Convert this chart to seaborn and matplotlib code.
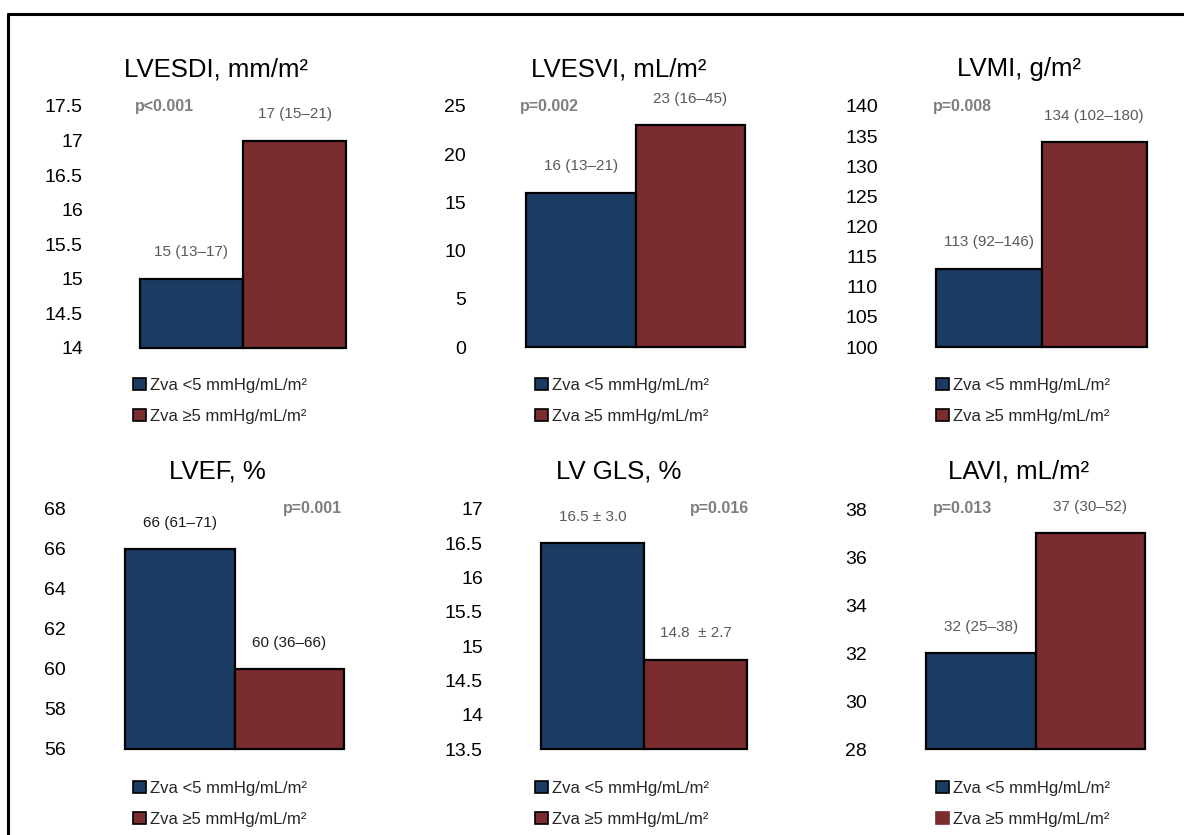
import matplotlib
matplotlib.use("Agg")
import matplotlib.pyplot as plt
import seaborn as sns
import pandas as pd
import numpy as np
from matplotlib.patches import Patch
from matplotlib.lines import Line2D

# ---------------- data ----------------
titles = ["LVESDI, mm/m²", "LVESVI, mL/m²", "LVMI, g/m²", "LVEF, %", "LV GLS, %", "LAVI, mL/m²"]
groups = ["Zva <5 mmHg/mL/m²", "Zva ≥5 mmHg/mL/m²"]
low_values = [15, 16, 113, 66, 16.5, 32]
high_values = [17, 23, 134, 60, 14.8, 37]
low_labels = ["15 (13–17)", "16 (13–21)", "113 (92–146)", "66 (61–71)", "16.5 ± 3.0", "32 (25–38)"]
high_labels = ["17 (15–21)", "23 (16–45)", "134 (102–180)", "60 (36–66)", "14.8  ± 2.7", "37 (30–52)"]
p_values = ["p<0.001", "p=0.002", "p=0.008", "p=0.001", "p=0.016", "p=0.013"]
y_min = [14, 0, 100, 56, 13.5, 28]
y_max = [17.5, 25, 140, 68, 17, 38]
y_step = [0.5, 5, 5, 2, 0.5, 2]

# ---------------- layout (pixels) ----------------
W, H = 1184, 835
layout = [
    dict(l=140, r=346, t=106, b=348, lab=83, tx=216, ty=76, px=135, pha="left", py=107, leg=133, ly=385),
    dict(l=526, r=745, t=106, b=347, lab=466, tx=619, ty=76, px=520, pha="left", py=107, leg=535, ly=385),
    dict(l=936, r=1147, t=106, b=347, lab=878, tx=1019, ty=76, px=933, pha="left", py=107, leg=936, ly=385),
    dict(l=125, r=344, t=509, b=749, lab=66, tx=217, ty=479, px=342, pha="right", py=509, leg=133, ly=788),
    dict(l=541, r=747, t=509, b=749, lab=483, tx=619, ty=479, px=749, pha="right", py=508, leg=535, ly=788),
    dict(l=926, r=1145, t=509, b=749, lab=867, tx=1019, ty=479, px=933, pha="left", py=509, leg=936, ly=788),
]
label_colors = ["#595959", "#595959", "#595959", "#1a1a1a", "#595959", "#595959"]

BLUE = "#1a3c63"
RED = "#7a2c2e"

sns.set_theme(style="white")
plt.rcParams["font.family"] = ["Liberation Sans", "DejaVu Sans"]

fig = plt.figure(figsize=(W / 100, H / 100), dpi=100)
fig.patch.set_facecolor("white")

for i in range(6):
    L = layout[i]
    ax = fig.add_axes([L["l"] / W, 1 - L["b"] / H, (L["r"] - L["l"]) / W, (L["b"] - L["t"]) / H])
    df = pd.DataFrame({"group": groups, "value": [low_values[i], high_values[i]]})
    sns.barplot(data=df, x="group", y="value", hue="group", palette=[BLUE, RED],
                width=1.0, dodge=False, edgecolor="black", linewidth=1.6,
                saturation=1, ax=ax, legend=False)
    ymin, ymax = y_min[i], y_max[i]
    ax.set_xlim(-0.5, 1.5)
    ax.set_ylim(ymin, ymax)
    for p in ax.patches:
        top = p.get_y() + p.get_height()
        p.set_y(ymin)
        p.set_height(top - ymin)
        p.set_clip_on(False)
    ticks = np.arange(ymin, ymax + y_step[i] / 2, y_step[i])
    ax.set_yticks(ticks)
    ax.set_yticklabels(["{:g}".format(v) for v in ticks])
    pad = (L["l"] - L["lab"]) * 0.72
    ax.tick_params(axis="y", length=0, pad=pad, labelsize=14, labelcolor="black")
    ax.set_xticks([])
    ax.set_xlabel("")
    ax.set_ylabel("")
    for s in ax.spines.values():
        s.set_visible(False)
    ax.patch.set_alpha(0)

    for j, (val, lab) in enumerate([(low_values[i], low_labels[i]), (high_values[i], high_labels[i])]):
        ax.annotate(lab, xy=(j, val), xytext=(0, 19), textcoords="offset points",
                    ha="center", va="center", fontsize=11, color=label_colors[i])

    fig.text(L["px"] / W, 1 - L["py"] / H, p_values[i], ha=L["pha"], va="center",
             fontsize=11.5, fontweight="bold", color="#7f7f7f")

    fig.text(L["tx"] / W, 1 - L["ty"] / H, titles[i], ha="center", va="baseline",
             fontsize=18.5, color="black")

    handles = [Patch(facecolor=BLUE, edgecolor="black", linewidth=1.2),
               Patch(facecolor=RED, edgecolor="black" if i != 5 else RED, linewidth=1.2)]
    ax.legend(handles, groups, loc="upper left",
              bbox_to_anchor=(L["leg"] / W, 1 - (L["ly"] - 7) / H),
              bbox_transform=fig.transFigure, frameon=False, fontsize=12,
              handlelength=0.75, handleheight=0.75, handletextpad=0.25,
              labelspacing=0.95, borderpad=0, borderaxespad=0)

# frame lines
fig.add_artist(Line2D([8 / W, 8 / W], [0, 1 - 14 / H], color="black", lw=2.2, transform=fig.transFigure))
fig.add_artist(Line2D([8 / W, 1], [1 - 14 / H, 1 - 14 / H], color="black", lw=2.2, transform=fig.transFigure))

fig.savefig("out.png", dpi=100)
